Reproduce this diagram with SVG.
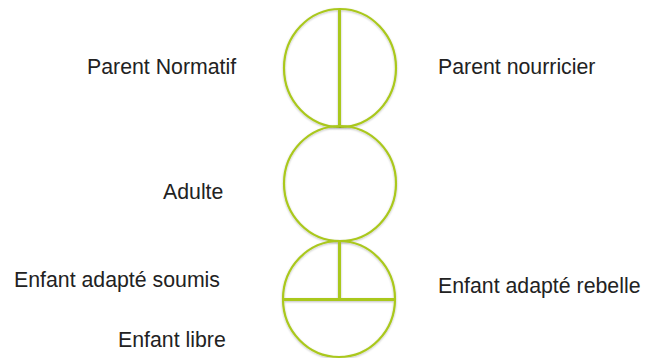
<svg xmlns="http://www.w3.org/2000/svg" width="649" height="358" viewBox="0 0 649 358">
<defs>
<style>
.ring{fill:none;stroke:#AAC81E;stroke-width:2.2}
.bar{stroke:#AAC81E;stroke-width:3;fill:none}
.lbl{font-family:"Liberation Sans",Arial,sans-serif;font-size:21.3px;fill:#222}
</style>
<filter id="sh" x="-10%" y="-10%" width="120%" height="120%">
<feGaussianBlur in="SourceAlpha" stdDeviation="1"/>
<feOffset dx="0" dy="1" result="b"/>
<feComponentTransfer><feFuncA type="linear" slope="0.25"/></feComponentTransfer>
<feMerge><feMergeNode/><feMergeNode in="SourceGraphic"/></feMerge>
</filter>
</defs>
<rect width="649" height="358" fill="#fff"/>
<g id="parent" filter="url(#sh)">
<ellipse class="ring" cx="340" cy="68" rx="56" ry="59"/>
<line class="bar" x1="339.5" y1="9" x2="339.5" y2="127"/>
</g>
<g id="adulte" filter="url(#sh)">
<ellipse class="ring" cx="340" cy="183.5" rx="56" ry="57.5"/>
</g>
<g id="enfant" filter="url(#sh)">
<ellipse class="ring" cx="339" cy="299" rx="56" ry="58"/>
<line class="bar" x1="339.5" y1="241" x2="339.5" y2="299"/>
<line class="bar" x1="283" y1="299.5" x2="395" y2="299.5"/>
</g>
<g id="labels">
<text class="lbl" x="87" y="74">Parent Normatif</text>
<text class="lbl" x="438" y="74">Parent nourricier</text>
<text class="lbl" x="163" y="199">Adulte</text>
<text class="lbl" x="14" y="287">Enfant adapté soumis</text>
<text class="lbl" x="438" y="293">Enfant adapté rebelle</text>
<text class="lbl" x="118" y="347">Enfant libre</text>
</g>
<g id="connectors"></g>
</svg>
